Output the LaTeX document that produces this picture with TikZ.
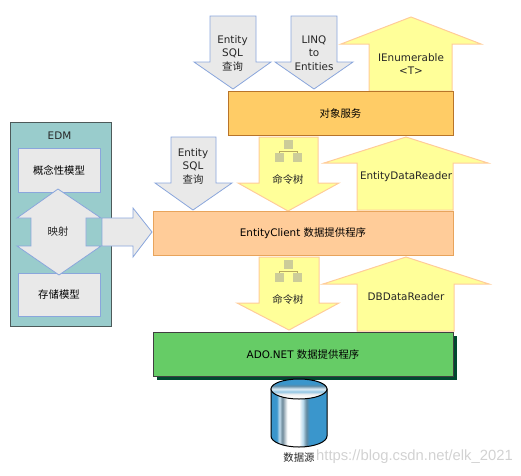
\documentclass[tikz,border=0pt]{standalone}
\usepackage{fontspec}
\setmainfont{DejaVu Sans}
\newfontfamily\cjk{Noto Sans CJK SC}
\usetikzlibrary{positioning,calc}
\definecolor{edmfill}{HTML}{99CCCC}
\definecolor{edmline}{HTML}{4D5A5A}
\definecolor{greyfill}{HTML}{E9E9E9}
\definecolor{greyline}{HTML}{8AA6DC}
\definecolor{yellowfill}{HTML}{FFFF99}
\definecolor{yellowline}{HTML}{FFCC99}
\definecolor{servicefill}{HTML}{FFCC66}
\definecolor{serviceline}{HTML}{B8742A}
\definecolor{clientfill}{HTML}{FFCC99}
\definecolor{clientline}{HTML}{E8A45C}
\definecolor{adofill}{HTML}{66CC66}
\definecolor{adoshadow}{HTML}{00482F}
\definecolor{iconfill}{HTML}{CCCC99}
\definecolor{iconline}{HTML}{B8A860}
\definecolor{cylblue}{HTML}{3A96CC}
\pgfdeclarehorizontalshading{cylbody}{100bp}{
  color(0bp)=(cylblue); color(25bp)=(cylblue); color(30bp)=(cylblue);
  color(32.5bp)=(cylblue!30); color(35bp)=(gray!70!cylblue); color(39.5bp)=(white);
  color(50bp)=(white); color(53.5bp)=(cylblue!35); color(56.5bp)=(gray!60!cylblue);
  color(59.5bp)=(cylblue); color(75bp)=(cylblue); color(100bp)=(cylblue)}
\pgfdeclareverticalshading{cyltop}{100bp}{
  color(0bp)=(white); color(43bp)=(white); color(46bp)=(gray!12);
  color(48bp)=(cylblue!55); color(50bp)=(cylblue!15);
  color(52.5bp)=(gray!50!cylblue); color(54bp)=(cylblue); color(100bp)=(cylblue)}
\newcommand{\blockdown}[9][greyblock]{%
  \draw[#1] (#2,-#4) -- (#3,-#4) -- (#3,-#5) -- (#7,-#5) -- (#8,-#9) -- (#6,-#5) -- (#2,-#5) -- cycle;}
\newcommand{\blockup}[8]{%
  \draw[yellowblock] (#1,-#3) -- (#1,-#4) -- (#5,-#4) -- (#7,-#8) -- (#6,-#4) -- (#2,-#4) -- (#2,-#3) -- cycle;}
\newcommand{\treeicon}[2]{%
  \draw[iconline,line width=.8pt] (#1-9,-#2-12) |- (#1+9,-#2-7) -- (#1+9,-#2-12);
  \fill[iconfill] (#1-4.5,-#2-4.5) rectangle +(9,9);
  \fill[iconfill] (#1-13.5,-#2-18) rectangle +(9,9);
  \fill[iconfill] (#1+4.5,-#2-18) rectangle +(9,9);}
\tikzset{
  greyblock/.style={draw=greyline,fill=greyfill,line width=.8pt},
  yellowblock/.style={draw=yellowline,fill=yellowfill,line width=1pt},
  layerbox/.style={draw,line width=.8pt,minimum width=300pt,minimum height=44pt,inner sep=0pt},
  modelbox/.style={draw=greyline,fill=greyfill,line width=.8pt,minimum width=82pt,minimum height=43.5pt,inner sep=0pt},
  textlabel/.style={align=center,text=black!85,inner sep=0pt}
}
\begin{document}
\begin{tikzpicture}[x=1pt,y=1pt,every node/.style={font=\fontsize{10.4}{13.5}\selectfont}]
  \useasboundingbox (0,0) rectangle (521,-475);
  \node (edm) [draw=edmline,fill=edmfill,line width=1pt,minimum width=101pt,minimum height=204pt,inner sep=0pt,anchor=north west] at (9.5,-122) {};
  \node (edmtitle) [textlabel] at (59.5,-135.5) {EDM};
  \node (concept) [modelbox] at (59,-170.5) {\cjk 概念性模型};
  \node (storage) [modelbox] at (59,-295) {\cjk 存储模型};
  \draw[greyblock] (58,-189) -- (101,-218) -- (86,-218) -- (86,-246) -- (101,-246) -- (59,-275) -- (17,-246) -- (31,-246) -- (31,-218) -- (17,-218) -- cycle;
  \node (mapping) [textlabel] at (58,-232) {\cjk 映射};
  \draw[greyblock] (102,-218) -- (133,-218) -- (133,-208) -- (152,-232) -- (133,-257) -- (133,-246) -- (102,-246) -- cycle;

  \blockdown{210}{256}{16}{62}{194}{271}{233}{89}
  \blockdown{291}{337}{16}{62}{275}{353}{314}{89}
  \blockup{369}{452}{91}{44}{341}{481}{411}{17}
  \blockdown{171}{216}{137}{183}{155}{232}{193}{210}
  \blockup{357}{453}{210}{163}{324}{488}{406}{137}
  \blockup{357}{454}{331}{284}{323}{489}{406}{257}
  \blockdown[yellowblock]{259}{318}{137}{183}{238}{339}{288}{211}
  \blockdown[yellowblock]{259}{319}{257}{303}{237}{339}{289}{330}
  \treeicon{288}{144}
  \treeicon{288}{264}

  \node (client) [layerbox,draw=clientline,fill=clientfill] at (303,-233) {EntityClient {\cjk 数据提供程序}};
  \node (service) [layerbox,draw=serviceline,fill=servicefill,minimum width=225pt,anchor=south east] at ($(client.north east)+(0,75)$) {\cjk 对象服务};
  \fill[adoshadow] (157,-336) rectangle (457,-380);
  \node (ado) [layerbox,draw=black!75,fill=adofill,below=77pt of client] {ADO.NET {\cjk 数据提供程序}};

  \node (sqla) [textlabel] at (232.5,-53) {Entity\\SQL\\{\cjk 查询}};
  \node (linq) [textlabel] at (314,-53) {LINQ\\to\\Entities};
  \node (ienum) [textlabel] at (411,-64) {IEnumerable\\<T>};
  \node (sqlb) [textlabel] at (193,-166) {Entity\\SQL\\{\cjk 查询}};
  \node (treea) [textlabel] at (288,-180) {\cjk 命令树};
  \node (reada) [textlabel] at (406,-177) {EntityDataReader};
  \node (treeb) [textlabel] at (288,-300) {\cjk 命令树};
  \node (readb) [textlabel] at (406,-297) {DBDataReader};

  \draw[black,line width=1pt,shading=cylbody] (271,-389) -- (271,-436) arc[start angle=180,end angle=360,x radius=28,y radius=11] -- (327,-389) -- cycle;
  \begin{scope}
    \clip (299,-389) ellipse[x radius=28,y radius=10];
    \shade[shading=cyltop,rotate around={-20:(299,-389)}] (259,-409) rectangle (339,-369);
  \end{scope}
  \draw[black,line width=1pt] (299,-389) ellipse[x radius=28,y radius=10];
  \node (source) [textlabel] at (299,-458) {\cjk 数据源};
  \node (mark) [anchor=east,text=gray!35,inner sep=0pt,font=\fontsize{14.8}{16}\selectfont\fontspec{Liberation Sans}] at (513,-457) {https://blog.csdn.net/elk\_2021};
\end{tikzpicture}
\end{document}
